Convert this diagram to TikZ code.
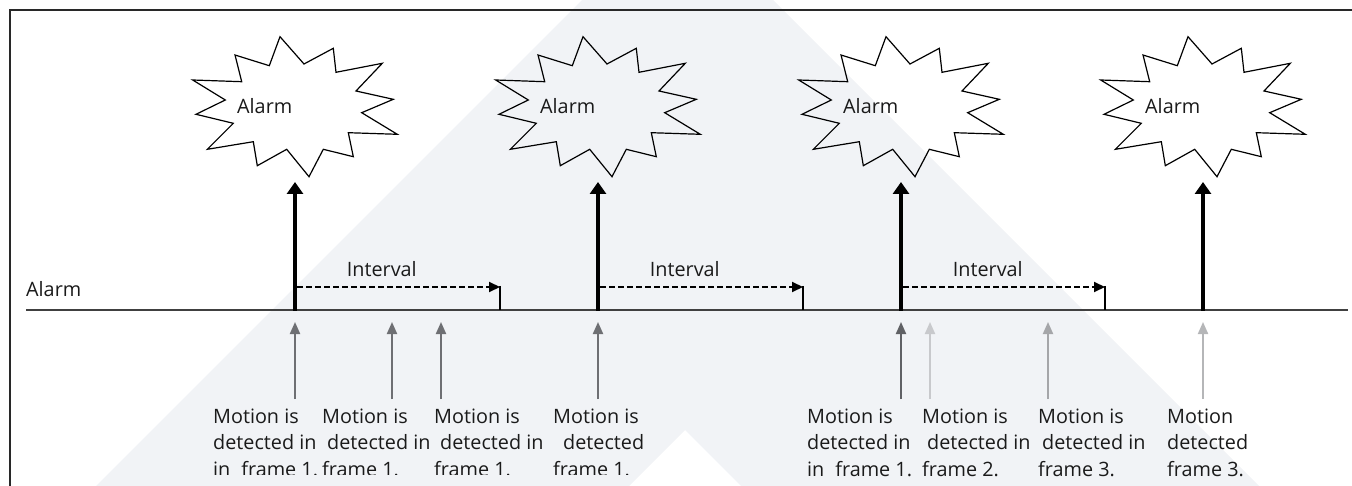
\documentclass[tikz,border=0pt]{standalone}
\usepackage{fontspec}
\setmainfont{Open Sans}
\usetikzlibrary{arrows.meta}
\definecolor{wm}{RGB}{241,243,246}
\definecolor{frameC}{RGB}{40,40,40}
\definecolor{baseC}{RGB}{64,64,64}
\definecolor{txtC}{RGB}{26,26,26}
\definecolor{gA}{RGB}{110,111,115}
\definecolor{gB}{RGB}{96,97,101}
\definecolor{gC}{RGB}{200,201,204}
\definecolor{gD}{RGB}{165,166,169}
\definecolor{gE}{RGB}{181,182,184}
\tikzset{
  txt/.style={inner sep=0pt, text=txtC, font=\fontsize{19.8}{26.5}\selectfont},
  mtext/.style={txt, align=left, anchor=base west},
  alarmline/.style={line width=4.5pt, -{Triangle[width=16pt,length=12pt]}},
  intv/.style={line width=2pt, dash pattern=on 6pt off 3pt, -{Triangle[width=10pt,length=11pt]}},
  tickline/.style={line width=1.2pt},
  marr/.style={line width=2pt, -{Triangle[width=10pt,length=12pt]}},
  burstline/.style={line width=1.2pt, line join=miter},
  burst/.pic={
    \draw[burstline] (-15,36.7) -- (9,64) -- (38.3,48.3) -- (41,72.3) -- (87.3,63.3)
      -- (61,91) -- (98.3,99.3) -- (66.7,112.7) -- (102.3,134.3) -- (53.3,132.7)
      -- (58.3,156.7) -- (28.3,149.3) -- (14,176.7) -- (-8.3,149.3) -- (-37.7,165.7)
      -- (-41.7,141.7) -- (-87.7,149.3) -- (-61.7,123.3) -- (-99,114.3) -- (-69.7,100)
      -- (-102.3,80) -- (-53.3,81.7) -- (-60,55) -- (-25.7,65.7) -- cycle;
    \node[txt, anchor=base west] (-t) at (-58,113.3) {Alarm};
  }
}
\begin{document}
\begin{tikzpicture}[x=1pt,y=-1pt]
\useasboundingbox (0,0) rectangle (1352,486);
% watermark
\fill[wm] (582,0) -- (773,0) -- (1259,486) -- (741,486) -- (685,430) -- (629,486) -- (96,486) -- cycle;
% frame
\draw[frameC, line width=1.5pt] (10,486) -- (10,10) -- (1352,10);
% baseline
\coordinate (bl0) at (26,310);
\coordinate (bl1) at (1348,310);
\draw[baseC, line width=2pt] (bl0) -- (bl1);
\node[txt, anchor=base west] (alarmlbl) at (26,296.7) {Alarm};
% alarms
\foreach \i/\X in {1/295,2/598,3/901,4/1203}{
  \pic (b\i) at (\X,0) {burst};
  \coordinate (t\i) at (\X,311);
  \coordinate (h\i) at (\X,182);
  \draw[alarmline] (t\i) -- (h\i);
}
% intervals
\foreach \i/\X/\E in {1/295/500,2/598/803,3/901/1105}{
  \coordinate (is\i) at (\X+2.3,287);
  \coordinate (ie\i) at (\E,287);
  \coordinate (ib\i) at (\E,310);
  \draw[intv] (is\i) -- (ie\i);
  \draw[tickline] (\E,286) -- (ib\i);
  \node[txt, anchor=base west] (il\i) at (\X+51.7,277) {Interval};
}
% motion arrows
\foreach \i/\X/\C in {1/295/gA,2/392/gA,3/441/gA,4/598/gA,5/901/gB,6/930/gC,7/1048/gD,8/1203/gE}{
  \coordinate (ms\i) at (\X,399);
  \coordinate (me\i) at (\X,322);
  \draw[marr, \C] (ms\i) -- (me\i);
}
% motion texts (anchor = baseline of last line)
\begin{scope}
\clip (0,0) rectangle (760,474);
\node[mtext] (m1) at (213,476) {Motion is\\detected in\\in\hspace{11pt}frame 1.};
\node[mtext] (m2) at (322,476) {Motion is\\\hspace*{5pt}detected in\\frame 1.};
\node[mtext] (m3) at (434,476) {Motion is\\\hspace*{6pt}detected in\\frame 1.};
\node[mtext] (m4) at (553,476) {Motion is\\\hspace*{10pt}detected\\frame 1.};
\end{scope}
\node[mtext] (m5) at (807,476) {Motion is\\detected in\\in\hspace{11pt}frame 1.};
\node[mtext] (m6) at (922,476) {Motion is\\\hspace*{5pt}detected in\\frame 2.};
\node[mtext] (m7) at (1038,476) {Motion is\\\hspace*{4pt}detected in\\frame 3.};
\node[mtext] (m8) at (1167,476) {Motion\\detected\\frame 3.};
\end{tikzpicture}
\end{document}
